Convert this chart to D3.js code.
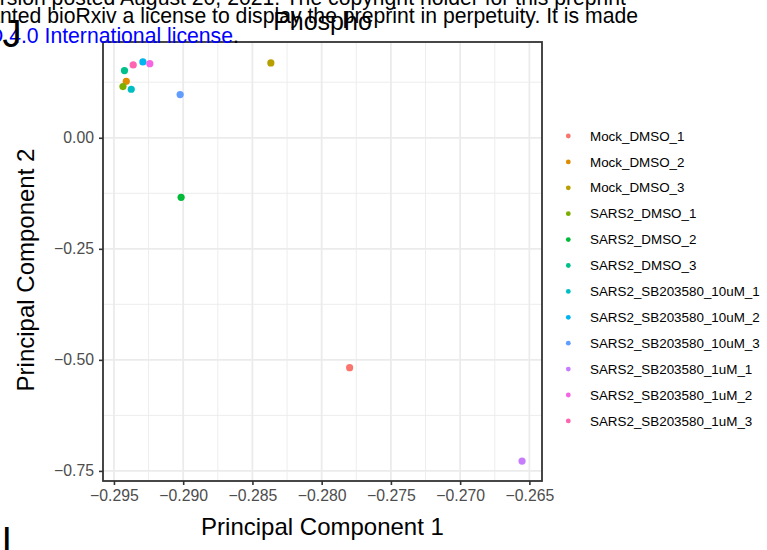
<!DOCTYPE html>
<html>
<head>
<meta charset="utf-8">
<script src="https://cdn.jsdelivr.net/npm/d3@7"></script>
<style>
  html, body { margin: 0; padding: 0; background: #ffffff; }
  svg { display: block; font-family: "Liberation Sans", Arial, Helvetica, sans-serif; }
</style>
</head>
<body>
<svg id="chart" width="767" height="550"></svg>
<script>
// PCA scores of the phosphoproteomics samples
const samples = [
  "Mock_DMSO_1", "Mock_DMSO_2", "Mock_DMSO_3",
  "SARS2_DMSO_1", "SARS2_DMSO_2", "SARS2_DMSO_3",
  "SARS2_SB203580_10uM_1", "SARS2_SB203580_10uM_2", "SARS2_SB203580_10uM_3",
  "SARS2_SB203580_1uM_1", "SARS2_SB203580_1uM_2", "SARS2_SB203580_1uM_3"
];
const pc1 = [-0.27798, -0.29411, -0.28367, -0.29435, -0.29015, -0.29424,
             -0.29375, -0.29291, -0.29022, -0.26553, -0.29241, -0.29361];
const pc2 = [-0.5175, 0.1271, 0.1685, 0.1152, -0.1340, 0.1512,
             0.1092, 0.1707, 0.0973, -0.7278, 0.1669, 0.1640];
const sampleColors = ["#F8766D", "#DE8C00", "#B79F00", "#7CAE00", "#00BA38", "#00C08B",
                      "#00BFC4", "#00B4F0", "#619CFF", "#C77CFF", "#F564E3", "#FF64B0"];

const xTicks = [-0.295, -0.290, -0.285, -0.280, -0.275, -0.270, -0.265];
const xMinor = [-0.2925, -0.2875, -0.2825, -0.2775, -0.2725, -0.2675];
const yTicks = [0.00, -0.25, -0.50, -0.75];
const yMinor = [0.125, -0.125, -0.375, -0.625];

const plotTitle = "Phospho";
const xTitle = "Principal Component 1";
const yTitle = "Principal Component 2";

// page furniture printed around the figure
const headerLines = [
  "version posted August 20, 2021. The copyright holder for this preprint",
  "granted bioRxiv a license to display the preprint in perpetuity. It is made"
];
const licenseText = "CC-BY-NC-ND 4.0 International license";
const panelLetters = ["J", "I"];

const svg = d3.select("#chart");
const panel = { left: 103, right: 542, top: 42, bottom: 481 };

// ggplot-style 5% expansion around the data range
const xExt = d3.extent(pc1), yExt = d3.extent(pc2);
const xPad = (xExt[1] - xExt[0]) * 0.05, yPad = (yExt[1] - yExt[0]) * 0.05;
const x = d3.scaleLinear().domain([xExt[0] - xPad, xExt[1] + xPad]).range([panel.left, panel.right]);
const y = d3.scaleLinear().domain([yExt[0] - yPad, yExt[1] + yPad]).range([panel.bottom, panel.top]);

svg.append("rect").attr("width", 767).attr("height", 550).attr("fill", "#ffffff");

// grid
const grid = svg.append("g");
grid.selectAll(".xmin").data(xMinor).join("line")
  .attr("x1", d => x(d)).attr("x2", d => x(d)).attr("y1", panel.top).attr("y2", panel.bottom)
  .attr("stroke", "#EBEBEB").attr("stroke-width", 0.9);
grid.selectAll(".ymin").data(yMinor).join("line")
  .attr("y1", d => y(d)).attr("y2", d => y(d)).attr("x1", panel.left).attr("x2", panel.right)
  .attr("stroke", "#EBEBEB").attr("stroke-width", 0.9);
grid.selectAll(".xmaj").data(xTicks).join("line")
  .attr("x1", d => x(d)).attr("x2", d => x(d)).attr("y1", panel.top).attr("y2", panel.bottom)
  .attr("stroke", "#EBEBEB").attr("stroke-width", 1.8);
grid.selectAll(".ymaj").data(yTicks).join("line")
  .attr("y1", d => y(d)).attr("y2", d => y(d)).attr("x1", panel.left).attr("x2", panel.right)
  .attr("stroke", "#EBEBEB").attr("stroke-width", 1.8);

// points
svg.append("g").selectAll("circle").data(samples).join("circle")
  .attr("cx", (d, i) => x(pc1[i])).attr("cy", (d, i) => y(pc2[i]))
  .attr("r", 3.6).attr("fill", (d, i) => sampleColors[i]);

// panel border
svg.append("rect")
  .attr("x", panel.left).attr("y", panel.top)
  .attr("width", panel.right - panel.left).attr("height", panel.bottom - panel.top)
  .attr("fill", "none").attr("stroke", "#333333").attr("stroke-width", 1.8);

// axes
const xAxis = svg.append("g").attr("transform", `translate(0,${panel.bottom})`)
  .call(d3.axisBottom(x).tickValues(xTicks).tickFormat(d3.format(".3f")).tickSize(4).tickPadding(5));
const yAxis = svg.append("g").attr("transform", `translate(${panel.left},0)`)
  .call(d3.axisLeft(y).tickValues(yTicks).tickFormat(d3.format(".2f")).tickSize(4).tickPadding(5));
[xAxis, yAxis].forEach(a => {
  a.select(".domain").remove();
  a.selectAll(".tick line").attr("stroke", "#333333").attr("stroke-width", 1.6);
  a.selectAll(".tick text").attr("fill", "#4D4D4D").style("font-size", "15.8px")
    .style("font-family", "'Liberation Sans', Arial, sans-serif");
});

// axis titles
svg.append("text").attr("x", (panel.left + panel.right) / 2).attr("y", 535)
  .attr("text-anchor", "middle").style("font-size", "24px").attr("fill", "#000")
  .text(xTitle);
svg.append("text").attr("transform", "translate(34,270) rotate(-90)")
  .attr("text-anchor", "middle").style("font-size", "24px").attr("fill", "#000")
  .text(yTitle);

// legend
const legend = svg.append("g");
const rowY = i => 136 + i * 25.9;
legend.selectAll("circle").data(samples).join("circle")
  .attr("cx", 568.3).attr("cy", (d, i) => rowY(i)).attr("r", 2.4)
  .attr("fill", (d, i) => sampleColors[i]);
legend.selectAll("text").data(samples).join("text")
  .attr("x", 590).attr("y", (d, i) => rowY(i)).attr("dy", "0.35em")
  .style("font-size", "13.4px").attr("fill", "#000").text(d => d);

// header lines of the page
svg.append("text").attr("x", 626).attr("y", 5).attr("text-anchor", "end")
  .style("font-size", "21.2px").attr("fill", "#000").text(headerLines[0]);
svg.append("text").attr("x", 638).attr("y", 23).attr("text-anchor", "end")
  .style("font-size", "21.2px").attr("fill", "#000").text(headerLines[1]);
svg.append("text").attr("x", 233).attr("y", 43).attr("text-anchor", "end")
  .style("font-size", "21.2px").attr("fill", "#0000FF").text(licenseText);
svg.append("text").attr("x", 233).attr("y", 43)
  .style("font-size", "21.2px").attr("fill", "#000").text(".");

// plot title
svg.append("text").attr("x", (panel.left + panel.right) / 2).attr("y", 30)
  .attr("text-anchor", "middle").style("font-size", "25px").attr("fill", "#000")
  .text(plotTitle);

// panel letters
svg.append("text").attr("x", 2.5).attr("y", 47).style("font-size", "38px").attr("fill", "#000").text(panelLetters[0]);
svg.append("text").attr("x", 1.5).attr("y", 554).style("font-size", "38px").attr("fill", "#000").text(panelLetters[1]);
</script>
</body>
</html>
